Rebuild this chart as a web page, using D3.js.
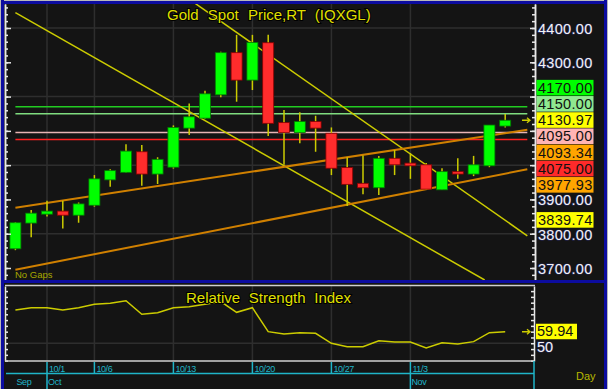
<!DOCTYPE html>
<html>
<head>
<style>
    body { margin: 0; background: #141414; }
    svg { display: block; font-family: "Liberation Sans", Arial, sans-serif; }
</style>
<script src="https://d3js.org/d3.v7.min.js"></script>
<title>Gold Spot Price,RT (IQXGL)</title>
</head>
<body>
<svg width="608" height="389"></svg>
<script>
// daily bars
var dates = ["9/29","9/30","10/1","10/2","10/3","10/6","10/7","10/8","10/9","10/10",
    "10/13","10/14","10/15","10/16","10/17","10/20","10/21","10/22","10/23","10/24",
    "10/27","10/28","10/29","10/30","10/31","11/3","11/4","11/5","11/6","11/7","11/10","11/11"];
var opens  = [3756,3831,3857,3866,3854,3883,3957,3979,4039,3974,3994,4108,4137,4205,4328,4248,
              4357,4124,4095,4127,4093,3993,3947,3934,4020,4006,4001,3928,3981,3974,3998,4114];
var highs  = [3834,3869,3896,3896,3891,3971,3988,4061,4059,4023,4116,4180,4217,4331,4380,4380,
              4380,4161,4154,4144,4110,4023,4028,4027,4044,4035,4006,3991,4020,4027,4117,4149];
var lows   = [3752,3790,3850,3815,3832,3879,3937,3978,3940,3945,3990,4088,4135,4198,4185,4219,
              4085,4001,4064,4039,3971,3881,3915,3913,3971,3960,3928,3928,3960,3968,3994,4110];
var closes = [3832,3860,3866,3854,3887,3960,3984,4041,3974,4017,4110,4141,4208,4328,4248,4358,
              4122,4095,4127,4108,3991,3944,3934,4020,4001,3998,3930,3981,3974,4001,4117,4130.97];
var rsi = [78.7,80.7,80.7,78.7,80.7,83.6,84.5,86.7,75,76.4,80.7,81.6,83.6,85.9,76.7,80.7,
           60,58,59.1,58.6,50,47.1,47.1,52.2,51.1,51.1,46,50.5,49.4,51.4,59.1,59.94];

// tick labels
var priceTicks = [3700,3800,3900,4000,4100,4200,4300,4400];
var weekTicks = ["10/1","10/6","10/13","10/20","10/27","11/3"];
var monthNames = ["Sep","Oct","Nov"];
var monthStarts = ["9/29","10/1","11/3"];
var rsiTicks = [50];

// horizontal levels and trend lines (bar index, price)
var levels = [4170, 4150, 4095, 4075];
var trendDown1 = [[0, 4445], [29.7, 3665]];
var trendDown2 = [[11.4, 4471], [32.4, 3794]];
var channelTop = [[0, 3876], [32.4, 4103]];
var channelBottom = [[0, 3695], [32.4, 3988]];

// right hand value boxes
var boxValues = [4170, 4150, 4130.97, 4095, 4093.34, 4075, 3977.93, 3839.74];
var lastClose = 4130.97;
var lastRsi = 59.94;

// styles
var levelColors = ["#22cc22", "#7fdc7f", "#e8b4b4", "#ff2020"];
var boxColors = ["#00ff00", "#90e890", "#ffff00", "#ffb4b4", "#ffa500", "#ff2a2a", "#ffa500", "#ffff00"];
var yellow = "#cccc00", cyan = "#1fb5c8", orange = "#d08000";
var labelSize = 14.5;

var svg = d3.select("svg");

// scales
var x = d3.scalePoint().domain(dates).range([15.4, 505.2]);
var xi = d3.scaleLinear().domain([0, dates.length - 1]).range([15.4, 505.2]);
var y = d3.scaleLinear().domain([3665, 4470]).range([280, 4]);
var yr = d3.scaleLinear().domain([34.7, 99.4]).range([361, 286]);

svg.append("rect").attr("width", 608).attr("height", 389).attr("fill", "#141414");

// clip for the two panels
svg.append("clipPath").attr("id", "main").append("rect")
    .attr("x", 6).attr("y", 4).attr("width", 528).attr("height", 276);
svg.append("clipPath").attr("id", "rsi").append("rect")
    .attr("x", 6).attr("y", 286).attr("width", 528).attr("height", 75);

var g = svg.append("g").attr("clip-path", "url(#main)");

// grid
g.selectAll(".hgrid").data([3800, 4000, 4200, 4400]).enter().append("line")
    .attr("x1", 6).attr("x2", 534)
    .attr("y1", d => y(d)).attr("y2", d => y(d))
    .attr("stroke", "#2e2e2e").attr("stroke-width", 1.5);
g.selectAll(".vgrid").data(weekTicks).enter().append("line")
    .attr("x1", d => x(d)).attr("x2", d => x(d))
    .attr("y1", 4).attr("y2", 280)
    .attr("stroke", "#2e2e2e").attr("stroke-width", 1.5);

// level lines
g.selectAll(".level").data(levels).enter().append("line")
    .attr("x1", xi(0)).attr("x2", xi(32.4))
    .attr("y1", d => y(d)).attr("y2", d => y(d))
    .attr("stroke", (d, i) => levelColors[i]).attr("stroke-width", 1.5);

// trend lines
var tline = d3.line().x(d => xi(d[0])).y(d => y(d[1]));
[[trendDown1, yellow], [trendDown2, yellow], [channelTop, orange], [channelBottom, orange]].forEach(function (t) {
    g.append("path").attr("d", tline(t[0])).attr("fill", "none")
        .attr("stroke", t[1]).attr("stroke-width", t[1] == orange ? 2 : 1.5);
});

// candles
var idx = d3.range(dates.length);
g.selectAll(".wick").data(idx).enter().append("line")
    .attr("x1", i => x(dates[i])).attr("x2", i => x(dates[i]))
    .attr("y1", i => y(highs[i])).attr("y2", i => y(lows[i]))
    .attr("stroke", yellow).attr("stroke-width", 1.5);
g.selectAll(".body").data(idx).enter().append("rect")
    .attr("x", i => x(dates[i]) - 5.5)
    .attr("width", 11)
    .attr("y", i => y(Math.max(opens[i], closes[i])))
    .attr("height", i => Math.max(2, Math.abs(y(opens[i]) - y(closes[i]))))
    .attr("fill", i => closes[i] >= opens[i] ? "#00ff00" : "#ff2c2c")
    .attr("stroke", i => closes[i] >= opens[i] ? "#007a00" : "#8a0000")
    .attr("stroke-width", 0.8);

// small arrow pointing at a value box
function arrow(sel, cx, cy) {
    sel.append("path").attr("d", "M" + (cx - 4) + "," + cy + "H" + (cx + 3) + "M" + (cx + 1) + "," + (cy - 2.5) + "L" + (cx + 4) + "," + cy + "L" + (cx + 1) + "," + (cy + 2.5))
        .attr("stroke", yellow).attr("stroke-width", 1.3).attr("fill", "none");
}
arrow(svg, 526, y(lastClose));

// titles
svg.append("text").attr("x", 167).attr("y", 20).attr("font-size", 15)
    .attr("word-spacing", 5).attr("fill", "#e0e000")
    .attr("stroke", "#000").attr("stroke-width", 2).attr("paint-order", "stroke")
    .text("Gold Spot Price,RT (IQXGL)");
svg.append("text").attr("x", 15).attr("y", 278).attr("font-size", 9.5)
    .attr("fill", "#a8a800").text("No Gaps");

// price axes
var minor = d3.range(3680, 4470, 20);
var major = d3.range(3700, 4401, 100);
svg.append("g").attr("transform", "translate(5,0)")
    .call(d3.axisRight(y).tickValues(minor).tickSize(3).tickSizeOuter(0).tickFormat(""));
svg.append("g").attr("transform", "translate(5,0)")
    .call(d3.axisRight(y).tickValues(major).tickSize(6).tickSizeOuter(0).tickFormat(""));
svg.append("g").attr("transform", "translate(535,0)")
    .call(d3.axisLeft(y).tickValues(minor).tickSize(3).tickSizeOuter(0).tickFormat(""));
svg.append("g").attr("transform", "translate(535,0)")
    .call(d3.axisLeft(y).tickValues(major).tickSize(5).tickSizeOuter(0).tickFormat(""));
svg.selectAll(".domain, .tick line").attr("stroke", "#e8e8e8").attr("stroke-width", 1.5);

// stacked value boxes, anchored at the last close
var boxH = 16.2;
var order = boxValues.map((v, i) => ({ v: v, i: i, y: y(v) })).sort((a, b) => b.v - a.v);
var a = order.findIndex(d => d.v == lastClose);
for (var k = a - 1; k >= 0; k--) order[k].y = Math.min(order[k].y, order[k + 1].y - boxH);
for (var k = a + 1; k < order.length; k++) order[k].y = Math.max(order[k].y, order[k - 1].y + boxH);

// tick labels, hidden where a box sits
var fmt = d3.format(".2f");
svg.selectAll(".plabel").data(priceTicks.filter(t => order.every(o => Math.abs(o.y - y(t)) > 12)))
    .enter().append("text")
    .attr("x", 538).attr("y", d => y(d) + 6).attr("font-size", labelSize).attr("letter-spacing", 0.3)
    .attr("fill", "#f2f2f2").attr("stroke", "#2a2a60").attr("stroke-width", 1.2)
    .attr("paint-order", "stroke").text(d => fmt(d));

var boxes = svg.selectAll(".box").data(order).enter().append("g");
boxes.append("rect").attr("x", 536.5).attr("width", 57).attr("y", d => d.y - 8).attr("height", boxH - 0.6)
    .attr("fill", d => boxColors[d.i]);
boxes.append("text").attr("x", 538).attr("y", d => d.y + 5).attr("font-size", labelSize).attr("letter-spacing", 0.3)
    .attr("fill", "#111").text(d => fmt(d.v));

// RSI panel
var r = svg.append("g").attr("clip-path", "url(#rsi)");
r.append("line").attr("x1", 6).attr("x2", 534).attr("y1", yr(50)).attr("y2", yr(50))
    .attr("stroke", "#2e2e2e").attr("stroke-width", 1.5);
r.selectAll(".vgrid").data(weekTicks).enter().append("line")
    .attr("x1", d => x(d)).attr("x2", d => x(d)).attr("y1", 286).attr("y2", 361)
    .attr("stroke", "#2e2e2e").attr("stroke-width", 1.5);
r.append("path").datum(rsi)
    .attr("d", d3.line().x((d, i) => x(dates[i])).y(d => yr(d)))
    .attr("fill", "none").attr("stroke", yellow).attr("stroke-width", 1.5);
svg.append("text").attr("x", 186).attr("y", 303).attr("font-size", 15)
    .attr("word-spacing", 4.5).attr("fill", "#e0e000")
    .attr("stroke", "#000").attr("stroke-width", 2).attr("paint-order", "stroke")
    .text("Relative Strength Index");
arrow(svg, 526, yr(lastRsi));

var rminor = d3.range(35, 99, 5);
svg.append("g").attr("class", "rax").attr("transform", "translate(5,0)")
    .call(d3.axisRight(yr).tickValues(rminor).tickSize(3).tickSizeOuter(0).tickFormat(""));
svg.append("g").attr("class", "rax").attr("transform", "translate(534,0)")
    .call(d3.axisLeft(yr).tickValues(rminor).tickSize(3).tickSizeOuter(0).tickFormat(""));
svg.selectAll(".rax .domain, .rax .tick line").attr("stroke", "#e8e8e8").attr("stroke-width", 1.5);

svg.selectAll(".rlabel").data(rsiTicks).enter().append("text")
    .attr("x", 537).attr("y", d => yr(d) + 9).attr("font-size", labelSize)
    .attr("fill", "#f2f2f2").attr("stroke", "#2a2a60").attr("stroke-width", 1.2)
    .attr("paint-order", "stroke").text(d => d);
svg.append("rect").attr("x", 536).attr("y", yr(lastRsi) - 8).attr("width", 41).attr("height", 15.5)
    .attr("fill", "#ffff00");
svg.append("text").attr("x", 537).attr("y", yr(lastRsi) + 4.5).attr("font-size", labelSize)
    .attr("fill", "#111").text(fmt(lastRsi));

// frame and separators
svg.append("line").attr("x1", 5).attr("x2", 535).attr("y1", 285.5).attr("y2", 285.5)
    .attr("stroke", "#d0d0d0").attr("stroke-width", 1.5);
svg.append("line").attr("x1", 5).attr("x2", 534).attr("y1", 361).attr("y2", 361)
    .attr("stroke", "#d0d0d0").attr("stroke-width", 1.5);
svg.append("rect").attr("x", 0).attr("y", 280).attr("width", 608).attr("height", 3).attr("fill", "#0c0ca0");
svg.append("rect").attr("x", 0).attr("y", 0).attr("width", 608).attr("height", 1).attr("fill", "#b8b8b8");
svg.append("rect").attr("x", 0).attr("y", 1).attr("width", 608).attr("height", 3).attr("fill", "#0c0ca0");
svg.append("rect").attr("x", 0).attr("y", 0).attr("width", 1).attr("height", 389).attr("fill", "#b8b8b8");
svg.append("rect").attr("x", 1).attr("y", 0).attr("width", 3).attr("height", 389).attr("fill", "#0c0ca0");
svg.append("rect").attr("x", 604).attr("y", 0).attr("width", 3).attr("height", 389).attr("fill", "#0c0ca0");
svg.append("rect").attr("x", 607).attr("y", 0).attr("width", 1).attr("height", 389).attr("fill", "#b8b8b8");

// date axis
var dax = svg.append("g");
dax.append("line").attr("x1", 6).attr("x2", 534).attr("y1", 373.5).attr("y2", 373.5)
    .attr("stroke", cyan).attr("stroke-width", 1.5);
dax.append("line").attr("x1", 534).attr("x2", 534).attr("y1", 361).attr("y2", 389)
    .attr("stroke", cyan).attr("stroke-width", 1.5);
dax.selectAll(".wk").data(weekTicks).enter().append("line")
    .attr("x1", d => x(d)).attr("x2", d => x(d))
    .attr("y1", 362).attr("y2", d => monthStarts.indexOf(d) >= 0 ? 389 : 373.5)
    .attr("stroke", cyan).attr("stroke-width", 1.5);
dax.selectAll(".wkl").data(weekTicks).enter().append("text")
    .attr("x", d => x(d) + 2).attr("y", 372).attr("font-size", 9).attr("letter-spacing", -0.4)
    .attr("fill", cyan).text(d => d);
dax.selectAll(".mo").data(monthNames).enter().append("text")
    .attr("x", (d, i) => x(monthStarts[i]) + 1).attr("y", 385).attr("font-size", 9).attr("letter-spacing", -0.3)
    .attr("fill", cyan).text(d => d);
svg.append("text").attr("x", 576).attr("y", 380).attr("font-size", 11)
    .attr("fill", "#b8b800").text("Day");
</script>
</body>
</html>
